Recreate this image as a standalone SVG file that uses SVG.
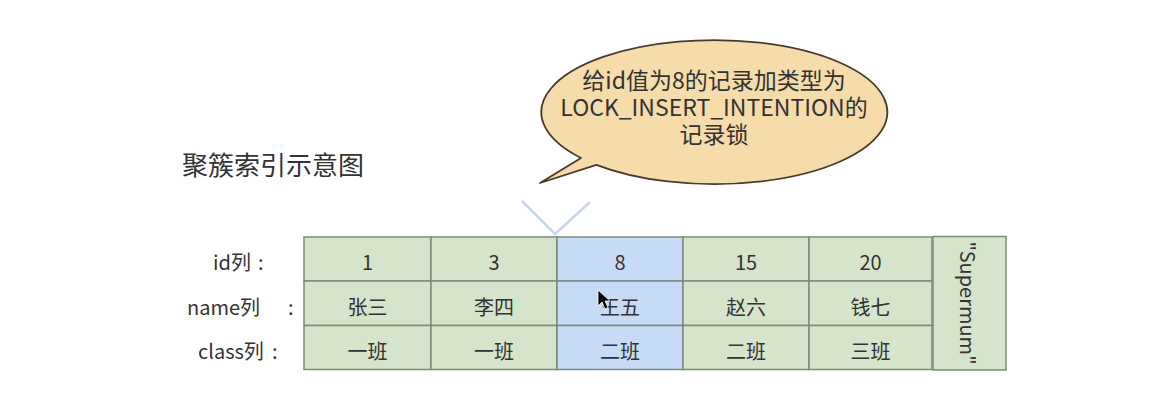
<svg xmlns="http://www.w3.org/2000/svg" width="1150" height="400" viewBox="0 0 1150 400">
<style>
text{font-family:"Noto Sans CJK SC","Noto Sans",sans-serif;fill:#333}
.cell{fill:#d5e4ca;stroke:#7d8b7b;stroke-width:1.5}
.sel{fill:#c8dbf6;stroke:#7d8b7b;stroke-width:1.5}
.v{font-size:20px;text-anchor:middle;dominant-baseline:central}
.lab{font-size:20px;dominant-baseline:central}
.bt{font-size:23px;text-anchor:middle}
</style>
<rect width="1150" height="400" fill="#fff"/>
<g id="title"><text x="182" y="175" font-size="26">聚簇索引示意图</text></g>
<g id="bubble">
<path d="M596.4,164.8 L540,183 L581,158 A173,72 0 1 1 596.4,164.8 Z" fill="#f6dcaa" stroke="#4a3a2a" stroke-width="1.8" stroke-linejoin="round"/>
<text class="bt" x="714" y="89">给id值为8的记录加类型为</text>
<text class="bt" x="714" y="116">LOCK_INSERT_INTENTION的</text>
<text class="bt" x="714" y="143">记录锁</text>
</g>
<g id="connectors"><polyline points="522,201 555,234 590,202" fill="none" stroke="#c6d6ee" stroke-width="2.5"/></g>
<g id="labels">
<text class="lab" x="213" y="261">id列</text><text class="lab" x="258" y="261">:</text>
<text class="lab" x="187" y="306">name列</text><text class="lab" x="288" y="306">:</text>
<text class="lab" x="198" y="350">class列</text><text class="lab" x="272" y="350">:</text>
</g>
<g id="rec1"><rect class="cell" x="304" y="237" width="127" height="44"/><rect class="cell" x="304" y="281" width="127" height="44.5"/><rect class="cell" x="304" y="325.5" width="127" height="44"/>
<text class="v" x="367.5" y="261">1</text><text class="v" x="367.5" y="306">张三</text><text class="v" x="367.5" y="350">一班</text></g>
<g id="rec3"><rect class="cell" x="431" y="237" width="126" height="44"/><rect class="cell" x="431" y="281" width="126" height="44.5"/><rect class="cell" x="431" y="325.5" width="126" height="44"/>
<text class="v" x="494" y="261">3</text><text class="v" x="494" y="306">李四</text><text class="v" x="494" y="350">一班</text></g>
<g id="rec8"><rect class="sel" x="557" y="237" width="126" height="44"/><rect class="sel" x="557" y="281" width="126" height="44.5"/><rect class="sel" x="557" y="325.5" width="126" height="44"/>
<text class="v" x="620" y="261">8</text><text class="v" x="620" y="306">王五</text><text class="v" x="620" y="350">二班</text></g>
<g id="rec15"><rect class="cell" x="683" y="237" width="126" height="44"/><rect class="cell" x="683" y="281" width="126" height="44.5"/><rect class="cell" x="683" y="325.5" width="126" height="44"/>
<text class="v" x="746" y="261">15</text><text class="v" x="746" y="306">赵六</text><text class="v" x="746" y="350">二班</text></g>
<g id="rec20"><rect class="cell" x="809" y="237" width="123" height="44"/><rect class="cell" x="809" y="281" width="123" height="44.5"/><rect class="cell" x="809" y="325.5" width="123" height="44"/>
<text class="v" x="870.5" y="261">20</text><text class="v" x="870.5" y="306">钱七</text><text class="v" x="870.5" y="350">三班</text></g>
<g id="supremum"><rect class="cell" x="933" y="236.5" width="73" height="133.5"/>
<text class="v" font-size="15.5" transform="translate(968,303) rotate(90)" x="0" y="0">"Supermum"</text></g>
<g id="cursor"><polygon points="598,290 598,306 602,302 605,309 608,307.5 605,301 610,301" fill="#000" stroke="#fff" stroke-width="0.8"/></g>
</svg>
